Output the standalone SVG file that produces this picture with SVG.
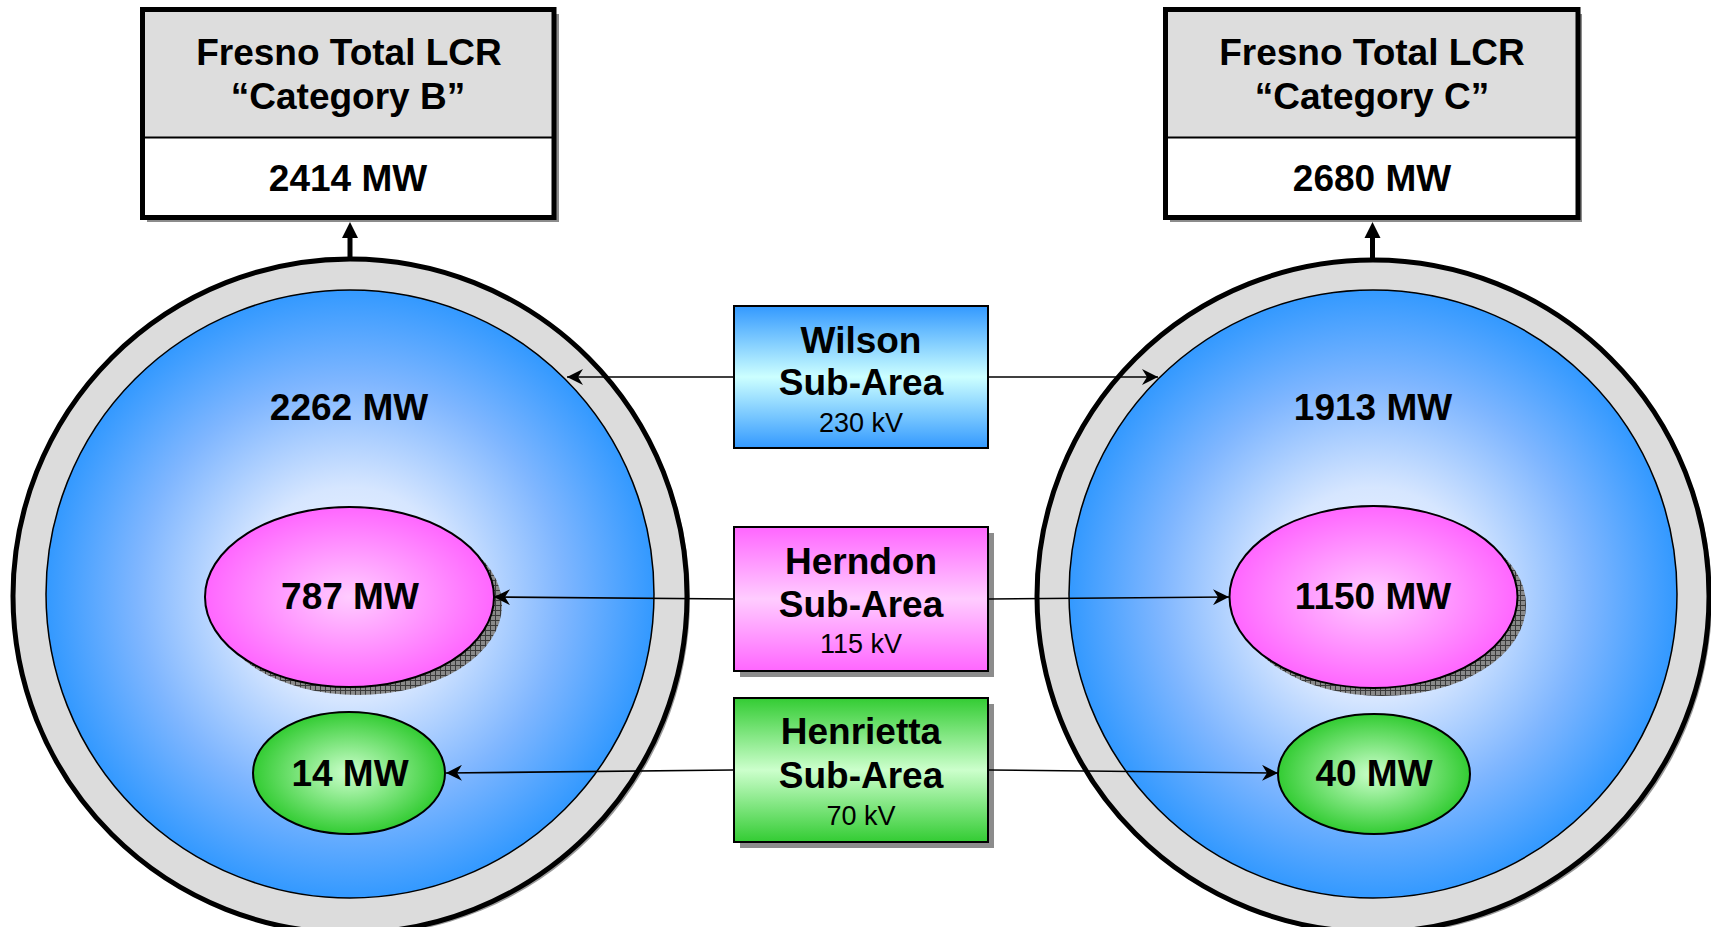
<svg xmlns="http://www.w3.org/2000/svg" width="1711" height="927" viewBox="0 0 1711 927">
<style>
.t{font-family:"Liberation Sans",Arial,sans-serif;font-weight:bold;font-size:37px;text-anchor:middle;fill:#000}
.s{font-family:"Liberation Sans",Arial,sans-serif;font-weight:bold;font-size:37px;text-anchor:middle;fill:#000}
.kv{font-family:"Liberation Sans",Arial,sans-serif;font-size:27px;text-anchor:middle;fill:#000}
.conn{stroke:#000;stroke-width:1.6;fill:none}
.ring{fill:#dcdcdc;stroke:#000;stroke-width:5}
.inner{fill:url(#gBlue);stroke:#000;stroke-width:1.5}
.box{stroke:#000;stroke-width:2}
.shadow{fill:#8c8c8c}
</style>
<defs>
<radialGradient id="gBlue" cx="0.5" cy="0.5" r="0.5">
<stop offset="0" stop-color="#f4f7ff"/>
<stop offset="0.35" stop-color="#d6e6ff"/>
<stop offset="0.7" stop-color="#7fb6ff"/>
<stop offset="1" stop-color="#3399ff"/>
</radialGradient>
<radialGradient id="gPink" cx="0.5" cy="0.5" r="0.5">
<stop offset="0" stop-color="#ffccff"/>
<stop offset="1" stop-color="#ff66ff"/>
</radialGradient>
<radialGradient id="gGreen" cx="0.5" cy="0.5" r="0.5">
<stop offset="0" stop-color="#ccffcc"/>
<stop offset="1" stop-color="#33cc33"/>
</radialGradient>
<linearGradient id="lBlue" x1="0" y1="0" x2="0" y2="1">
<stop offset="0" stop-color="#3399ff"/>
<stop offset="0.5" stop-color="#ccffff"/>
<stop offset="1" stop-color="#3399ff"/>
</linearGradient>
<linearGradient id="lPink" x1="0" y1="0" x2="0" y2="1">
<stop offset="0" stop-color="#ff66ff"/>
<stop offset="0.5" stop-color="#ffccff"/>
<stop offset="1" stop-color="#ff66ff"/>
</linearGradient>
<linearGradient id="lGreen" x1="0" y1="0" x2="0" y2="1">
<stop offset="0" stop-color="#33cc33"/>
<stop offset="0.5" stop-color="#ccffcc"/>
<stop offset="1" stop-color="#33cc33"/>
</linearGradient>
<pattern id="hatch" width="5" height="5" patternUnits="userSpaceOnUse">
<rect width="5" height="5" fill="#8a8a8a"/>
<path d="M0,0.5 H5 M0.5,0 V5" stroke="#3a3a3a" stroke-width="1"/>
</pattern>
<marker id="arr" viewBox="0 0 16 16" refX="16" refY="8" markerWidth="16" markerHeight="16" markerUnits="userSpaceOnUse" orient="auto">
<path d="M16,8 L0,0 L5,8 L0,16 Z" fill="#000"/>
</marker>
</defs>

<g id="circleB">
<circle cx="353" cy="599" r="337" fill="#9a9a9a"/>
<circle class="ring" cx="350" cy="596" r="337"/>
<circle class="inner" cx="350" cy="594" r="304"/>
<text class="t" x="349" y="420">2262 MW</text>
</g>
<g id="circleC">
<circle cx="1376" cy="599" r="336" fill="#9a9a9a"/>
<circle class="ring" cx="1373" cy="596" r="336"/>
<circle class="inner" cx="1373" cy="594" r="304"/>
<text class="t" x="1373" y="420">1913 MW</text>
</g>

<g id="hernB">
<ellipse cx="358" cy="605" rx="144" ry="90" fill="url(#hatch)"/>
<ellipse cx="349.5" cy="597" rx="144.5" ry="90" fill="url(#gPink)" stroke="#000" stroke-width="2"/>
<text class="t" x="350" y="609">787 MW</text>
</g>
<g id="hernC">
<ellipse cx="1382" cy="605" rx="144" ry="91" fill="url(#hatch)"/>
<ellipse cx="1373.5" cy="597" rx="144" ry="91" fill="url(#gPink)" stroke="#000" stroke-width="2"/>
<text class="t" x="1373" y="609">1150 MW</text>
</g>
<g id="henrB">
<ellipse cx="349" cy="773" rx="96" ry="61" fill="url(#gGreen)" stroke="#000" stroke-width="2"/>
<text class="t" x="350" y="786">14 MW</text>
</g>
<g id="henrC">
<ellipse cx="1374" cy="774" rx="96" ry="60" fill="url(#gGreen)" stroke="#000" stroke-width="2"/>
<text class="t" x="1374" y="786">40 MW</text>
</g>

<g id="totalB">
<rect x="147" y="14" width="412" height="208" class="shadow"/>
<rect x="142.5" y="9.5" width="411.5" height="128" fill="#dddddd"/>
<rect x="142.5" y="137.5" width="411.5" height="80" fill="#ffffff"/>
<line x1="142.5" y1="137.5" x2="554" y2="137.5" stroke="#000" stroke-width="2"/>
<rect x="142.5" y="9.5" width="411.5" height="208" fill="none" stroke="#000" stroke-width="5"/>
<text class="t" x="349" y="65">Fresno Total LCR</text>
<text class="t" x="348" y="109">“Category B”</text>
<text class="t" x="348" y="191">2414 MW</text>
</g>
<g id="totalC">
<rect x="1170" y="14" width="412" height="208" class="shadow"/>
<rect x="1165.5" y="9.5" width="412.5" height="128" fill="#dddddd"/>
<rect x="1165.5" y="137.5" width="412.5" height="80" fill="#ffffff"/>
<line x1="1165.5" y1="137.5" x2="1578" y2="137.5" stroke="#000" stroke-width="2"/>
<rect x="1165.5" y="9.5" width="412.5" height="208" fill="none" stroke="#000" stroke-width="5"/>
<text class="t" x="1372" y="65">Fresno Total LCR</text>
<text class="t" x="1372" y="109">“Category C”</text>
<text class="t" x="1372" y="191">2680 MW</text>
</g>

<g id="wilson">
<rect x="734" y="306" width="254" height="142" fill="url(#lBlue)" class="box"/>
<text class="s" x="861" y="353">Wilson</text>
<text class="s" x="861" y="395">Sub-Area</text>
<text class="kv" x="861" y="432">230 kV</text>
</g>
<g id="herndon">
<rect x="740" y="533" width="254" height="144" class="shadow"/>
<rect x="734" y="527" width="254" height="144" fill="url(#lPink)" class="box"/>
<text class="s" x="861" y="574">Herndon</text>
<text class="s" x="861" y="617">Sub-Area</text>
<text class="kv" x="861" y="653">115 kV</text>
</g>
<g id="henrietta">
<rect x="740" y="704" width="254" height="144" class="shadow"/>
<rect x="734" y="698" width="254" height="144" fill="url(#lGreen)" class="box"/>
<text class="s" x="861" y="744">Henrietta</text>
<text class="s" x="861" y="788">Sub-Area</text>
<text class="kv" x="861" y="825">70 kV</text>
</g>

<g id="connectors">
<line x1="350" y1="259" x2="350" y2="236" stroke="#000" stroke-width="5"/>
<polygon points="342,238 358,238 350,222" fill="#000"/>
<line x1="1372.5" y1="260" x2="1372.5" y2="236" stroke="#000" stroke-width="5"/>
<polygon points="1364.5,238 1380.5,238 1372.5,222" fill="#000"/>
<line class="conn" x1="733" y1="377" x2="567" y2="377" marker-end="url(#arr)"/>
<line class="conn" x1="989" y1="377" x2="1158" y2="377" marker-end="url(#arr)"/>
<line class="conn" x1="733" y1="599" x2="494" y2="597" marker-end="url(#arr)"/>
<line class="conn" x1="989" y1="599" x2="1229" y2="597" marker-end="url(#arr)"/>
<line class="conn" x1="733" y1="770" x2="446" y2="773" marker-end="url(#arr)"/>
<line class="conn" x1="989" y1="770" x2="1278" y2="773" marker-end="url(#arr)"/>
</g>
</svg>
